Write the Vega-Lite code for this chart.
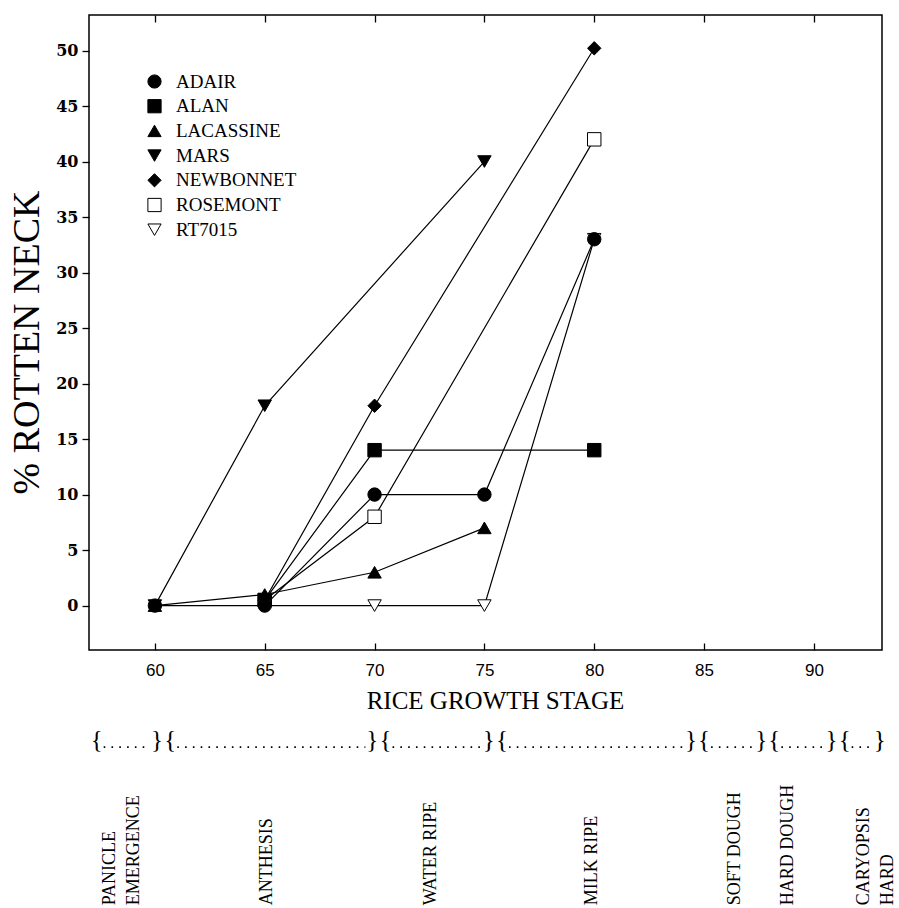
{
  "$schema": "https://vega.github.io/schema/vega-lite/v6.json",
  "autosize": {"type": "none"},
  "padding": {"left": 89, "top": 15, "right": 17, "bottom": 258},
  "width": 793,
  "height": 635,
  "background": "white",
  "config": {
    "view": {"stroke": "black", "strokeWidth": 1.5},
    "axis": {"grid": false, "domain": false, "tickColor": "black", "tickWidth": 1.3, "labelColor": "black", "titleColor": "black"}
  },
  "datasets": {
    "rot": [
      {"cultivar": "MARS", "stage": 60, "rot": 0},
      {"cultivar": "MARS", "stage": 65, "rot": 18},
      {"cultivar": "MARS", "stage": 75, "rot": 40},
      {"cultivar": "NEWBONNET", "stage": 65, "rot": 0.5},
      {"cultivar": "NEWBONNET", "stage": 70, "rot": 18},
      {"cultivar": "NEWBONNET", "stage": 80, "rot": 50.2},
      {"cultivar": "ROSEMONT", "stage": 65, "rot": 0.5},
      {"cultivar": "ROSEMONT", "stage": 70, "rot": 8},
      {"cultivar": "ROSEMONT", "stage": 80, "rot": 42},
      {"cultivar": "ALAN", "stage": 65, "rot": 0.5},
      {"cultivar": "ALAN", "stage": 70, "rot": 14},
      {"cultivar": "ALAN", "stage": 80, "rot": 14},
      {"cultivar": "RT7015", "stage": 65, "rot": 0},
      {"cultivar": "RT7015", "stage": 70, "rot": 0},
      {"cultivar": "RT7015", "stage": 75, "rot": 0},
      {"cultivar": "RT7015", "stage": 80, "rot": 33},
      {"cultivar": "LACASSINE", "stage": 60, "rot": 0},
      {"cultivar": "LACASSINE", "stage": 65, "rot": 1},
      {"cultivar": "LACASSINE", "stage": 70, "rot": 3},
      {"cultivar": "LACASSINE", "stage": 75, "rot": 7},
      {"cultivar": "ADAIR", "stage": 60, "rot": 0},
      {"cultivar": "ADAIR", "stage": 65, "rot": 0},
      {"cultivar": "ADAIR", "stage": 70, "rot": 10},
      {"cultivar": "ADAIR", "stage": 75, "rot": 10},
      {"cultivar": "ADAIR", "stage": 80, "rot": 33}
    ],
    "stages": [
      {"name": "PANICLE EMERGENCE", "label": ["PANICLE", "EMERGENCE"], "start": 57.35, "end": 60.1, "pos": 57.96},
      {"name": "ANTHESIS", "label": ["ANTHESIS"], "start": 60.7, "end": 69.9, "pos": 65.1},
      {"name": "WATER RIPE", "label": ["WATER RIPE"], "start": 70.5, "end": 75.2, "pos": 72.55},
      {"name": "MILK RIPE", "label": ["MILK RIPE"], "start": 75.8, "end": 84.4, "pos": 79.9},
      {"name": "SOFT DOUGH", "label": ["SOFT DOUGH"], "start": 85.0, "end": 87.6, "pos": 86.4},
      {"name": "HARD DOUGH", "label": ["HARD DOUGH"], "start": 88.2, "end": 90.8, "pos": 88.8},
      {"name": "CARYOPSIS HARD", "label": ["CARYOPSIS", "HARD"], "start": 91.4, "end": 93.0, "pos": 92.3}
    ]
  },
  "resolve": {"axis": {"x": "independent", "y": "independent"}},
  "layer": [
    {
      "data": {"name": "rot"},
      "mark": {"type": "line", "color": "black", "strokeWidth": 1.2},
      "encoding": {
        "x": {
          "field": "stage", "type": "quantitative",
          "scale": {"domain": [57, 93.1], "nice": false, "zero": false},
          "axis": {
            "orient": "bottom",
            "values": [60, 65, 70, 75, 80, 85, 90],
            "offset": -7,
            "tickSize": 7,
            "labelPadding": 12,
            "labelFont": "Liberation Sans", "labelFontSize": 17,
            "title": "RICE GROWTH STAGE",
            "titleFont": "Liberation Serif", "titleFontSize": 25, "titleFontWeight": "normal",
            "titleX": 406, "titleY": 57, "titleAlign": "center", "titleBaseline": "middle"
          }
        },
        "y": {
          "field": "rot", "type": "quantitative",
          "scale": {"domain": [-4, 53.2], "nice": false, "zero": false},
          "axis": {
            "orient": "left",
            "values": [0, 5, 10, 15, 20, 25, 30, 35, 40, 45, 50],
            "tickSize": 7,
            "labelPadding": 4,
            "labelFont": "DejaVu Serif", "labelFontSize": 16, "labelFontWeight": "bold",
            "title": "% ROTTEN NECK",
            "titleFont": "Liberation Serif", "titleFontSize": 38, "titleFontWeight": "normal",
            "titleX": -62, "titleY": 327, "titleAngle": 270, "titleAlign": "center", "titleBaseline": "middle"
          }
        },
        "detail": {"field": "cultivar"}
      }
    },
    {
      "data": {"name": "rot"},
      "mark": {"type": "point", "filled": true, "strokeWidth": 1, "size": 180, "opacity": 1},
      "encoding": {
        "x": {
          "field": "stage", "type": "quantitative",
          "scale": {"domain": [57, 93.1], "nice": false, "zero": false},
          "axis": {"orient": "top", "values": [60, 65, 70, 75, 80, 85, 90], "offset": -7, "tickSize": 7, "labels": false, "title": null}
        },
        "y": {
          "field": "rot", "type": "quantitative",
          "scale": {"domain": [-4, 53.2], "nice": false, "zero": false},
          "axis": null
        },
        "shape": {
          "field": "cultivar", "type": "nominal",
          "scale": {
            "domain": ["ADAIR", "ALAN", "LACASSINE", "MARS", "NEWBONNET", "ROSEMONT", "RT7015"],
            "range": ["circle", "square", "triangle-up", "triangle-down", "diamond", "square", "triangle-down"]
          },
          "legend": {
            "orient": "none", "legendX": 56, "legendY": 57, "title": null, "padding": 0,
            "labelFont": "Liberation Serif", "labelFontSize": 19, "labelColor": "black",
            "symbolSize": 175, "symbolStrokeWidth": 1,
            "labelOffset": 12, "rowPadding": 4.7
          }
        },
        "fill": {
          "field": "cultivar", "type": "nominal",
          "scale": {
            "domain": ["ADAIR", "ALAN", "LACASSINE", "MARS", "NEWBONNET", "ROSEMONT", "RT7015"],
            "range": ["black", "black", "black", "black", "black", "white", "white"]
          },
          "legend": {
            "orient": "none", "legendX": 56, "legendY": 57, "title": null, "padding": 0,
            "labelFont": "Liberation Serif", "labelFontSize": 19, "labelColor": "black",
            "symbolSize": 175, "symbolStrokeWidth": 1,
            "labelOffset": 12, "rowPadding": 4.7
          }
        },
        "stroke": {
          "field": "cultivar", "type": "nominal",
          "scale": {
            "domain": ["ADAIR", "ALAN", "LACASSINE", "MARS", "NEWBONNET", "ROSEMONT", "RT7015"],
            "range": ["black", "black", "black", "black", "black", "black", "black"]
          },
          "legend": {
            "orient": "none", "legendX": 56, "legendY": 57, "title": null, "padding": 0,
            "labelFont": "Liberation Serif", "labelFontSize": 19, "labelColor": "black",
            "symbolSize": 175, "symbolStrokeWidth": 1,
            "labelOffset": 12, "rowPadding": 4.7
          }
        }
      }
    },
    {
      "data": {"name": "stages"},
      "mark": {"type": "rule", "color": "black", "strokeWidth": 1.6, "strokeDash": [1.6, 6.2], "xOffset": 7, "x2Offset": -7},
      "encoding": {
        "x": {"field": "start", "type": "quantitative", "scale": {"domain": [57, 93.1], "nice": false, "zero": false}, "axis": null},
        "x2": {"field": "end"},
        "y": {"datum": -12.75, "type": "quantitative", "scale": {"domain": [-4, 53.2], "nice": false, "zero": false}, "axis": null}
      }
    },
    {
      "data": {"name": "stages"},
      "mark": {"type": "text", "text": "{", "font": "Liberation Serif", "fontSize": 25, "align": "center", "baseline": "middle", "color": "black"},
      "encoding": {
        "x": {"field": "start", "type": "quantitative", "scale": {"domain": [57, 93.1], "nice": false, "zero": false}, "axis": null},
        "y": {"datum": -12.1, "type": "quantitative", "scale": {"domain": [-4, 53.2], "nice": false, "zero": false}, "axis": null}
      }
    },
    {
      "data": {"name": "stages"},
      "mark": {"type": "text", "text": "}", "font": "Liberation Serif", "fontSize": 25, "align": "center", "baseline": "middle", "color": "black"},
      "encoding": {
        "x": {"field": "end", "type": "quantitative", "scale": {"domain": [57, 93.1], "nice": false, "zero": false}, "axis": null},
        "y": {"datum": -12.1, "type": "quantitative", "scale": {"domain": [-4, 53.2], "nice": false, "zero": false}, "axis": null}
      }
    },
    {
      "data": {"name": "stages"},
      "mark": {"type": "text", "angle": 270, "align": "left", "baseline": "middle", "font": "Liberation Serif", "fontSize": 18, "lineHeight": 24, "color": "black"},
      "encoding": {
        "x": {"field": "pos", "type": "quantitative", "scale": {"domain": [57, 93.1], "nice": false, "zero": false}, "axis": null},
        "y": {"datum": -27, "type": "quantitative", "scale": {"domain": [-4, 53.2], "nice": false, "zero": false}, "axis": null},
        "text": {"field": "label"}
      }
    }
  ]
}
